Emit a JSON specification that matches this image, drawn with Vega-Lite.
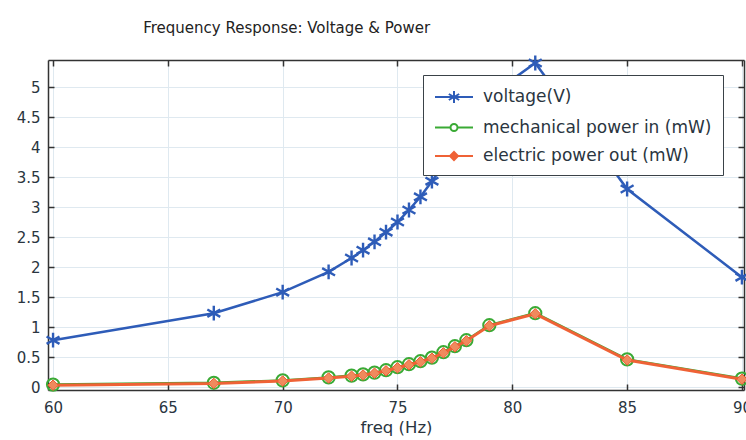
{
  "$schema": "https://vega.github.io/schema/vega-lite/v6.json",
  "width": 696,
  "height": 330,
  "autosize": {"type": "none"},
  "padding": {"left": 48, "top": 60, "right": 2, "bottom": 50},
  "background": "white",
  "config": {
    "font": "DejaVu Sans",
    "view": {"stroke": null},
    "axis": {
      "labelFont": "DejaVu Sans",
      "labelFontSize": 15,
      "labelColor": "#2a3540",
      "domainColor": "#333333",
      "domainWidth": 1.5,
      "tickColor": "#333333",
      "tickWidth": 1.5,
      "tickSize": -6,
      "gridColor": "#dfe9f0",
      "gridWidth": 1,
      "titleFont": "DejaVu Sans",
      "titleFontSize": 16.5,
      "titleFontWeight": "normal",
      "titleColor": "#2a3540"
    }
  },
  "title": {
    "text": "Frequency Response: Voltage & Power",
    "anchor": "start",
    "dx": 127,
    "offset": 15,
    "font": "DejaVu Sans",
    "fontSize": 15,
    "fontWeight": "normal",
    "color": "#222222"
  },
  "data": {
    "values": [
      {"freq": 60, "voltage": 0.78, "pin": 0.04, "pout": 0.03},
      {"freq": 67, "voltage": 1.23, "pin": 0.07, "pout": 0.06},
      {"freq": 70, "voltage": 1.58, "pin": 0.11, "pout": 0.1},
      {"freq": 72, "voltage": 1.92, "pin": 0.16, "pout": 0.15},
      {"freq": 73, "voltage": 2.15, "pin": 0.19, "pout": 0.18},
      {"freq": 73.5, "voltage": 2.28, "pin": 0.21, "pout": 0.2},
      {"freq": 74, "voltage": 2.42, "pin": 0.24, "pout": 0.23},
      {"freq": 74.5, "voltage": 2.58, "pin": 0.28, "pout": 0.27},
      {"freq": 75, "voltage": 2.75, "pin": 0.33, "pout": 0.32},
      {"freq": 75.5, "voltage": 2.95, "pin": 0.38, "pout": 0.37},
      {"freq": 76, "voltage": 3.17, "pin": 0.43, "pout": 0.42},
      {"freq": 76.5, "voltage": 3.43, "pin": 0.49, "pout": 0.48},
      {"freq": 77, "voltage": 3.7, "pin": 0.58, "pout": 0.57},
      {"freq": 77.5, "voltage": 4.0, "pin": 0.68, "pout": 0.67},
      {"freq": 78, "voltage": 4.3, "pin": 0.78, "pout": 0.77},
      {"freq": 79, "voltage": 4.85, "pin": 1.03, "pout": 1.02},
      {"freq": 81, "voltage": 5.4, "pin": 1.23, "pout": 1.22},
      {"freq": 85, "voltage": 3.3, "pin": 0.46, "pout": 0.45},
      {"freq": 90, "voltage": 1.83, "pin": 0.14, "pout": 0.13}
    ]
  },
  "transform": [
    {"fold": ["voltage", "pin", "pout"], "as": ["key", "value"]},
    {"lookup": "key", "from": {"data": {"values": [
      {"key": "voltage", "series": "voltage(V)"},
      {"key": "pin", "series": "mechanical power in (mW)"},
      {"key": "pout", "series": "electric power out (mW)"}
    ]}, "key": "key", "fields": ["series"]}}
  ],
  "layer": [
    {
      "transform": [{"filter": "datum.key === 'voltage'"}],
      "mark": {"type": "point", "opacity": 0},
      "encoding": {
        "x": {"field": "freq", "type": "quantitative",
          "scale": {"domain": [59.78, 90.09], "nice": false, "zero": false},
          "axis": {"orient": "top", "labels": false, "title": null, "grid": false, "values": [60, 65, 70, 75, 80, 85, 90]}},
        "y": {"field": "value", "type": "quantitative",
          "scale": {"domain": [-0.05, 5.45], "nice": false, "zero": false},
          "axis": {"orient": "right", "labels": false, "title": null, "grid": false, "values": [0, 0.5, 1, 1.5, 2, 2.5, 3, 3.5, 4, 4.5, 5]}}
      }
    },
    {
      "encoding": {
        "x": {
          "field": "freq", "type": "quantitative",
          "scale": {"domain": [59.78, 90.09], "nice": false, "zero": false},
          "axis": {"orient": "bottom", "values": [60, 65, 70, 75, 80, 85, 90], "title": "freq (Hz)", "labelPadding": 16, "titlePadding": 4, "grid": true}
        },
        "y": {
          "field": "value", "type": "quantitative",
          "scale": {"domain": [-0.05, 5.45], "nice": false, "zero": false},
          "axis": {"orient": "left", "values": [0, 0.5, 1, 1.5, 2, 2.5, 3, 3.5, 4, 4.5, 5], "format": "~g", "title": null, "labelPadding": 14, "grid": true}
        }
      },
      "layer": [
        {
          "transform": [{"filter": "datum.key === 'voltage'"}],
          "mark": {"type": "line", "strokeWidth": 2.5},
          "encoding": {
            "color": {
              "field": "series", "type": "nominal",
              "scale": {"domain": ["voltage(V)", "mechanical power in (mW)", "electric power out (mW)"], "range": ["#2e5cb8", "#3aaa35", "#ef6236"]},
              "legend": {
                "title": null,
                "orient": "none",
                "legendX": 375,
                "legendY": 15,
                "fillColor": "white",
                "strokeColor": "#3a4248",
                "padding": 11,
                "rowPadding": 9.5,
                "symbolSize": 400,
                "symbolOffset": 9,
                "labelOffset": 18,
                "labelFont": "DejaVu Sans",
                "labelFontSize": 17,
                "labelColor": "#2a3540",
                "labelLimit": 400,
                "symbolStrokeWidth": 2,
                "encode": {
                  "symbols": {
                    "update": {
                      "shape": {"signal": "datum.value === 'voltage(V)' ? 'M-1.9,0L1.9,0M0,-0.6L0,0.6M-0.52,-0.3L0.52,0.3M-0.52,0.3L0.52,-0.3' : datum.value === 'mechanical power in (mW)' ? 'M-1.9,0L-0.35,0M0.35,0L1.9,0M0.35,0A0.35,0.35,0,1,1,-0.35,0A0.35,0.35,0,1,1,0.35,0' : 'M-1.9,0L1.9,0M0,-0.4L0.4,0L0,0.4L-0.4,0Z'"},
                      "stroke": {"signal": "datum.value === 'voltage(V)' ? '#2e5cb8' : datum.value === 'mechanical power in (mW)' ? '#3aaa35' : '#ef6236'"},
                      "fill": {"signal": "datum.value === 'voltage(V)' ? 'transparent' : datum.value === 'mechanical power in (mW)' ? 'white' : '#ef6236'"},
                      "strokeWidth": {"value": 2},
                      "opacity": {"value": 1}
                    }
                  }
                }
              }
            }
          }
        },
        {
          "transform": [{"filter": "datum.key === 'voltage'"}],
          "mark": {"type": "point", "shape": "M0,-1L0,1M-0.87,-0.5L0.87,0.5M-0.87,0.5L0.87,-0.5", "filled": false, "stroke": "#2e5cb8", "strokeWidth": 2.4, "size": 220, "opacity": 1}
        },
        {
          "transform": [{"filter": "datum.key === 'pin'"}],
          "mark": {"type": "line", "strokeWidth": 2.5},
          "encoding": {"color": {"field": "series", "type": "nominal"}}
        },
        {
          "transform": [{"filter": "datum.key === 'pin'"}],
          "mark": {"type": "point", "shape": "circle", "filled": false, "stroke": "#3aaa35", "strokeWidth": 2, "size": 150, "opacity": 1}
        },
        {
          "transform": [{"filter": "datum.key === 'pout'"}],
          "mark": {"type": "line", "strokeWidth": 3},
          "encoding": {"color": {"field": "series", "type": "nominal"}}
        },
        {
          "transform": [{"filter": "datum.key === 'pout'"}],
          "mark": {"type": "point", "shape": "diamond", "filled": true, "fill": "#f08a5d", "stroke": "#ee5a2c", "strokeWidth": 1, "size": 110, "opacity": 1}
        }
      ]
    }
  ],
  "resolve": {"axis": {"x": "independent", "y": "independent"}}
}
